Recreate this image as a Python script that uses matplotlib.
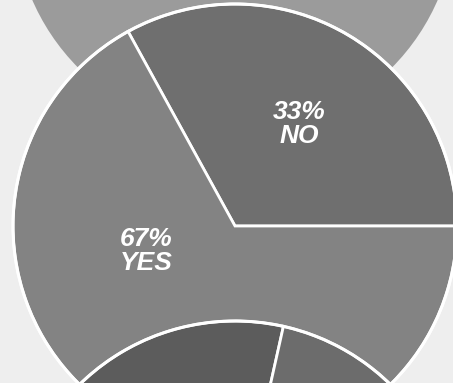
import matplotlib
matplotlib.use("Agg")
import matplotlib.pyplot as plt
from matplotlib.patches import Circle

# Survey answer shares (percent)
answers = ["NO", "YES"]
shares = [33, 67]

# Lower pie (partly shown), shares in percent
lower_shares = [62, 38]

W, H = 453, 383
fig = plt.figure(figsize=(W / 100, H / 100), dpi=100)
fig.patch.set_facecolor("#eeeeee")
ax = fig.add_axes([0, 0, 1, 1])
ax.set_xlim(0, W)
ax.set_ylim(0, H)
ax.set_aspect("equal")
ax.axis("off")

R = 222
white = "#ffffff"

# Upper pie (only its lower rim is visible)
ax.add_patch(Circle((235, H + 88), 221, facecolor="#9b9b9b", edgecolor="none", zorder=1))

# Main pie
mid_center = (235, H - 226)
ax.pie(shares, colors=["#6f6f6f", "#838383"], startangle=0, counterclock=True,
       center=mid_center, radius=R, frame=True,
       wedgeprops=dict(edgecolor=white, linewidth=2.0, zorder=2))
ax.add_patch(Circle(mid_center, R, facecolor="none", edgecolor=white, linewidth=2.2, zorder=3))

# Lower pie, drawn over the main one
low_center = (235, H - 543)
ax.pie(lower_shares, colors=["#5c5c5c", "#6c6c6c"], startangle=77.4, counterclock=True,
       center=low_center, radius=R, frame=True,
       wedgeprops=dict(edgecolor=white, linewidth=2.0, zorder=4))
ax.add_patch(Circle(low_center, R, facecolor="none", edgecolor=white, linewidth=2.2, zorder=5))

# pie() resets limits, so restore them
ax.set_xlim(0, W)
ax.set_ylim(0, H)
ax.axis("off")

label_pos = {"NO": (299, H - 124), "YES": (146, H - 251)}
font = dict(family=["Liberation Sans", "DejaVu Sans"], fontsize=19, fontweight="bold",
            fontstyle="italic", color="white")
for name, val in zip(answers, shares):
    x, y = label_pos[name]
    ax.text(x, y, f"{val}%\n{name}", ha="center", va="center", multialignment="center",
            linespacing=1.0, zorder=10, **font)

fig.savefig("out.png", dpi=100, facecolor=fig.get_facecolor())
